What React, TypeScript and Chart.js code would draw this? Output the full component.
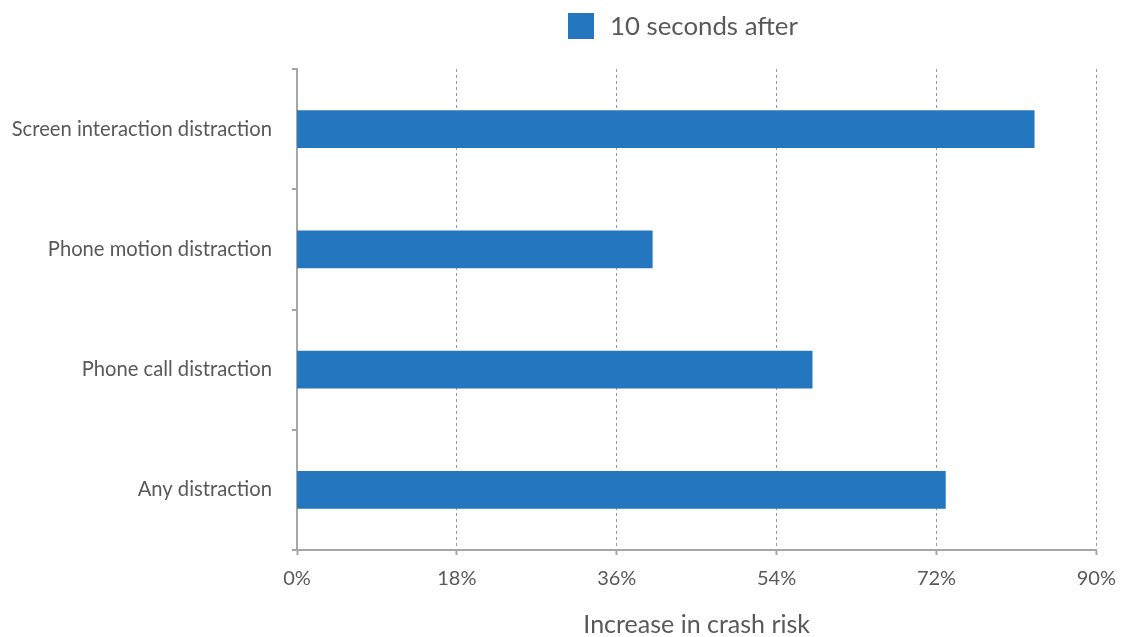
import React, { useEffect, useRef } from "react";
import { Chart, registerables } from "chart.js";

Chart.register(...registerables);

const categories = [
  "Screen interaction distraction",
  "Phone motion distraction",
  "Phone call distraction",
  "Any distraction",
];
const seriesLabel = "10 seconds after";
const seriesValues = [83, 40, 58, 73];
const xTickValues = [0, 18, 36, 54, 72, 90];
const xAxisTitle = "Increase in crash risk";

const BAR_COLOR = "#2477bf";
const TEXT_COLOR = "#595959";
const AXIS_COLOR = "#a6a6a6";
const FONT = "Lato";
const WEIGHT = 400;

const customLegend = {
  id: "customLegend",
  afterDraw(chart: any) {
    const ctx = chart.ctx;
    const ds = chart.data.datasets[0];
    ctx.save();
    ctx.fillStyle = ds.backgroundColor;
    ctx.fillRect(568, 13, 26, 26);
    ctx.fillStyle = TEXT_COLOR;
    ctx.font = `${WEIGHT} 25.8px ${FONT}`;
    ctx.textBaseline = "middle";
    ctx.textAlign = "left";
    ctx.fillText(ds.label, 610, 27);
    ctx.restore();
  },
};

export default function App() {
  const ref = useRef<HTMLCanvasElement | null>(null);

  useEffect(() => {
    if (!ref.current) return;
    const chart = new Chart(ref.current, {
      type: "bar",
      data: {
        labels: categories,
        datasets: [
          {
            label: seriesLabel,
            data: seriesValues,
            backgroundColor: BAR_COLOR,
            borderWidth: 0,
            barThickness: 37,
          },
        ],
      },
      options: {
        indexAxis: "y",
        responsive: false,
        animation: false,
        layout: { padding: { left: 0, right: 31, top: 69, bottom: 0 } },
        plugins: {
          legend: { display: false },
          tooltip: { enabled: false },
        },
        scales: {
          x: {
            min: 0,
            max: 90,
            afterBuildTicks: (scale: any) => {
              scale.ticks = xTickValues.map((v) => ({ value: v }));
            },
            afterFit: (scale: any) => {
              scale.height = 87;
            },
            ticks: {
              color: TEXT_COLOR,
              font: { family: FONT, size: 20, weight: WEIGHT },
              padding: 12,
              callback: (v: any) => `${v}%`,
            },
            grid: {
              color: "#999999",
              lineWidth: 1,
              drawTicks: true,
              tickLength: 5,
              tickColor: AXIS_COLOR,
              tickWidth: 2,
              tickBorderDash: [],
            },
            border: {
              display: true,
              color: AXIS_COLOR,
              width: 2,
              dash: [3, 3],
            },
            title: {
              display: true,
              text: xAxisTitle,
              color: TEXT_COLOR,
              font: { family: FONT, size: 25, lineHeight: 1, weight: WEIGHT },
              padding: { top: 0, bottom: 0 },
            },
          },
          y: {
            afterFit: (scale: any) => {
              scale.width = 297;
            },
            ticks: {
              color: TEXT_COLOR,
              font: { family: FONT, size: 20.2, weight: WEIGHT },
              padding: 20,
            },
            grid: {
              display: true,
              drawOnChartArea: false,
              drawTicks: true,
              tickLength: 5,
              color: AXIS_COLOR,
              lineWidth: 2,
            },
            border: {
              display: true,
              color: AXIS_COLOR,
              width: 2,
            },
          },
        },
      },
      plugins: [customLegend],
    } as any);
    return () => chart.destroy();
  }, []);

  return (
    <div style={{ position: "absolute", left: 0, top: 0, width: 1128, height: 637 }}>
      <canvas ref={ref} width={1128} height={637} />
    </div>
  );
}
